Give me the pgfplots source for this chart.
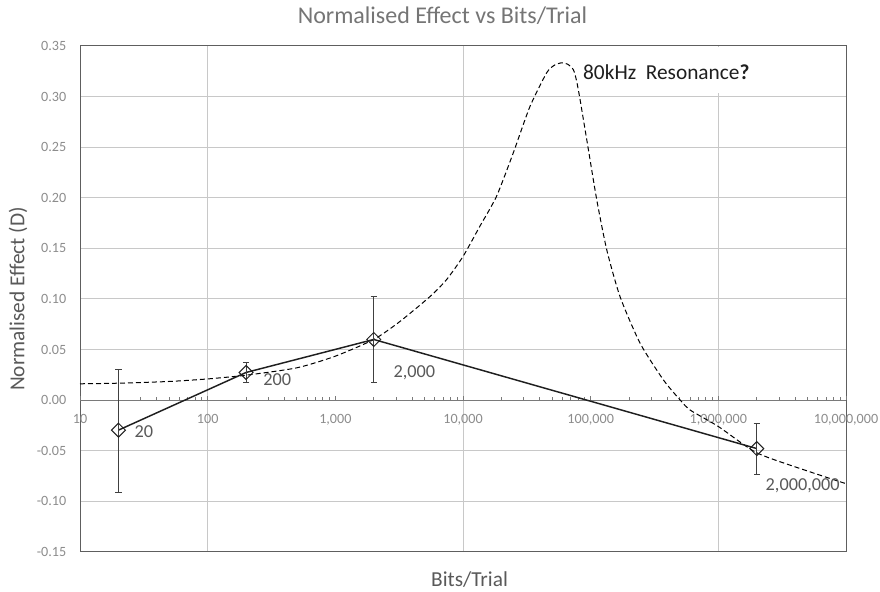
\documentclass[border=0pt]{standalone}
\usepackage{fontspec}
\setmainfont{Carlito}
\usepackage{pgfplots}
\usepackage{pgfplotstable}
\pgfplotsset{compat=1.18}
\definecolor{tickgray}{HTML}{8C8C8C}
\definecolor{labgray}{HTML}{595959}
\definecolor{titlegray}{HTML}{757575}
\definecolor{gridlight}{HTML}{C8C8C8}
\definecolor{griddark}{HTML}{8E8E8E}
\definecolor{framec}{HTML}{5E5E5E}
\definecolor{zeroc}{HTML}{7A7A7A}

\pgfplotstableread{
x y
10 0.0162
20 0.0168
50 0.0185
100 0.0210
200 0.0247
500 0.0320
1000 0.0435
2000 0.0600
3185 0.0775
5470 0.1020
7420 0.1190
10000 0.1420
13520 0.1716
18280 0.2013
24700 0.2440
33400 0.2900
45200 0.3235
52000 0.3310
59300 0.3334
66000 0.3320
73100 0.3267
77400 0.3160
82600 0.2970
96000 0.2475
111600 0.1980
133700 0.1485
170200 0.1020
244500 0.0560
372600 0.0198
503500 0.0000
604000 -0.0099
1000000 -0.0260
2000000 -0.0520
5000000 -0.0700
10000000 -0.0825
}\resonance

\pgfplotstableread{
x y ep em
20 -0.0296 0.0602 0.0614
200 0.0274 0.0096 0.0099
2000 0.0600 0.0428 0.0425
2000000 -0.0478 0.0248 0.0256
}\measured

\begin{document}
\begin{tikzpicture}
\begin{axis}[width=574.5pt,height=379.5pt,scale only axis,
  xmode=log,xmin=10,xmax=1e7,ymin=-0.15,ymax=0.35,
  clip=false,
  axis line style={framec,line width=0.75pt},
  xtick={100,10000,1000000}, xticklabels={},
  minor xtick={},
  xmajorgrids, ymajorgrids,
  grid style={gridlight,line width=0.75pt},
  ytick={-0.15,-0.1,-0.05,0,0.05,0.1,0.15,0.2,0.25,0.3,0.35},
  yticklabels={-0.15,-0.10,-0.05,0.00,0.05,0.10,0.15,0.20,0.25,0.30,0.35},
  yticklabel style={font=\fontsize{10.6pt}{12pt}\selectfont,text=tickgray,xshift=-6.75pt},
  tick style={draw=none},
  xlabel={Bits/Trial},
  xlabel style={at={(axis description cs:0.5,0)},anchor=center,yshift=-21pt,xshift=4.9pt,
    font=\fontsize{16pt}{18pt}\selectfont,text=labgray},
  ylabel={Normalised Effect (D)},
  ylabel style={at={(axis description cs:0,0.5)},anchor=center,yshift=46.5pt,
    font=\fontsize{16pt}{18pt}\selectfont,text=labgray},
]
\node[anchor=base,inner sep=0pt,font=\fontsize{18pt}{20pt}\selectfont,text=titlegray,
  xshift=-15.4pt,yshift=17pt] at (rel axis cs:0.5,1) {Normalised Effect vs Bits/Trial};
\end{axis}
\begin{axis}[width=574.5pt,height=379.5pt,scale only axis,
  xmode=log,xmin=10,xmax=1e7,ymin=-0.15,ymax=0.35,
  axis lines=none,
  xtick={1000,100000}, xticklabels={}, minor xtick={},
  ytick=\empty,
  xmajorgrids,
  grid style={griddark,line width=0.75pt},
  tick style={draw=none},
]
\fill[white] (axis cs:79000,0.3035) rectangle (axis cs:9.75e6,0.3493);
\node[anchor=base west,inner sep=0pt,font=\fontsize{16pt}{18pt}\selectfont,text=black!88]
  at (axis cs:86900,0.3172) {80kHz\ \ Resonance\textbf{?}};
\end{axis}
\begin{axis}[width=574.5pt,height=379.5pt,scale only axis,
  xmode=log,xmin=10,xmax=1e7,ymin=-0.15,ymax=0.35,
  axis x line*=middle, axis y line=none,
  x axis line style={zeroc,line width=1pt},
  xtick={10,100,1000,10000,100000,1000000,10000000},
  xticklabels={10,100,{1,000},{10,000},{100,000},{1,000,000},{10,000,000}},
  minor xtick={20,30,40,50,60,70,80,90,200,300,400,500,600,700,800,900,
    2000,3000,4000,5000,6000,7000,8000,9000,20000,30000,40000,50000,60000,70000,80000,90000,
    200000,300000,400000,500000,600000,700000,800000,900000,
    2000000,3000000,4000000,5000000,6000000,7000000,8000000,9000000},
  xtick align=inside,
  major tick length=3pt, minor tick length=2.25pt,
  tick style={zeroc,line width=0.75pt},
  xticklabel style={anchor=base,yshift=-17.25pt,font=\fontsize{10.6pt}{12pt}\selectfont,text=tickgray},
  ytick=\empty,
  clip=false,
]
\addplot[black, dash pattern=on 3.75pt off 2.25pt, line width=0.75pt, smooth, tension=0.4]
  table[x=x,y=y] {\resonance};
\addplot[black!88, line width=1.1pt, mark=square, mark size=3.7pt,
  mark options={rotate=45, solid, fill=white, line width=0.75pt, draw=black!88},
  error bars/.cd, y dir=both, y explicit,
  error bar style={line width=0.75pt, black!75, solid},
  error mark options={rotate=90, mark size=2.4pt, black!75, line width=0.75pt}]
  table[x=x,y=y,y error plus=ep,y error minus=em] {\measured};
\node[anchor=west,inner sep=0pt,font=\fontsize{13.7pt}{15pt}\selectfont,text=labgray,xshift=12pt,yshift=-0.75pt] at (axis cs:20,-0.0296) {20};
\node[anchor=west,inner sep=0pt,font=\fontsize{13.7pt}{15pt}\selectfont,text=labgray,xshift=12.75pt,yshift=-5.25pt] at (axis cs:200,0.0274) {200};
\node[anchor=west,inner sep=0pt,font=\fontsize{13.7pt}{15pt}\selectfont,text=labgray,xshift=14.6pt,yshift=-24.75pt] at (axis cs:2000,0.0600) {2,000};
\node[anchor=west,inner sep=0pt,font=\fontsize{13.7pt}{15pt}\selectfont,text=labgray,xshift=6.5pt,yshift=-27.75pt] at (axis cs:2000000,-0.0478) {2,000,000};
\end{axis}
\pgfresetboundingbox
\path[use as bounding box] ([xshift=-60pt,yshift=-30pt]current axis.south west) rectangle ([xshift=25.5pt,yshift=34.5pt]current axis.north east);
\end{tikzpicture}
\end{document}
